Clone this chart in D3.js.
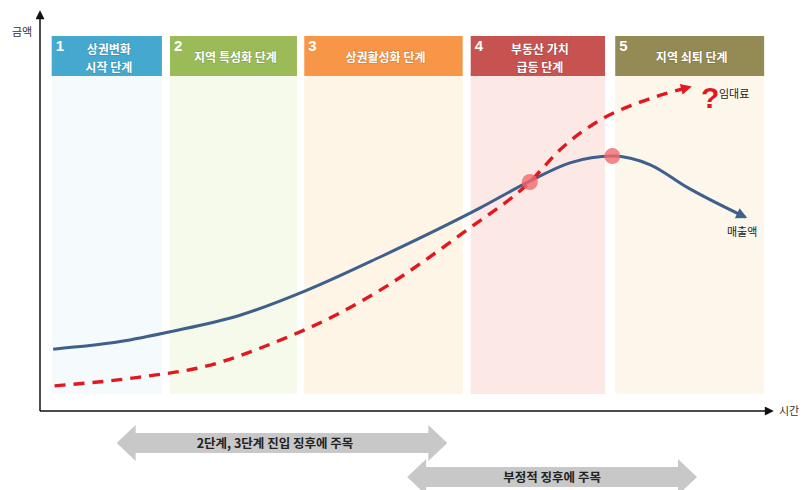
<!DOCTYPE html>
<html>
<head>
<meta charset="utf-8">
<script src="https://cdn.jsdelivr.net/npm/d3@7"></script>
<style>
  html, body { margin: 0; padding: 0; background: #fff; }
  svg { display: block; font-family: "Noto Sans CJK KR", "Noto Sans", sans-serif; }
</style>
</head>
<body>
<svg id="chart" width="803" height="490"></svg>
<script>
// Commercial district life cycle: sales vs. rent over time

// Stage bands (time units)
const stageNums   = ["1", "2", "3", "4", "5"];
const stageLabels = [["상권변화", "시작 단계"], ["지역 특성화 단계"], ["상권활성화 단계"], ["부동산 가치", "급등 단계"], ["지역 쇠퇴 단계"]];
const stageStart  = [1.6, 17.8, 36.2, 59.0, 78.8];
const stageEnd    = [16.7, 35.2, 57.9, 77.4, 99.2];
const stageColors = ["#45a9cf", "#9bbb59", "#f79646", "#c65350", "#948a54"];
const stageFills  = ["#f5fafd", "#f6faeb", "#fef5e7", "#fce8e4", "#fcf6eb"];

// Sales (매출액): time, amount
const salesTime  = [1.8, 11.0, 18.2, 27.4, 36.6, 46.6, 60.3, 67.1, 72.6, 78.4, 83.6, 88.6, 96.6];
const salesValue = [15.5, 17.4, 20.0, 24.0, 30.3, 38.6, 50.9, 57.6, 62.2, 63.9, 61.7, 56.1, 48.6];

// Rent (임대료): time, amount
const rentTime  = [2.0, 13.7, 22.9, 31.9, 41.1, 46.6, 58.5, 67.1, 71.2, 76.7, 82.2, 89.0];
const rentValue = [6.3, 8.5, 11.3, 17.0, 24.6, 30.3, 45.4, 57.4, 65.4, 72.9, 77.4, 81.2];

// Highlighted points: crossing and sales peak
const markTime  = [67.1, 78.4];
const markValue = [57.4, 63.9];

// Watch-period arrows below the time axis
const watchLabels = ["2단계, 3단계 진입 징후에 주목", "부정적 징후에 주목"];
const watchStart  = [10.5, 50.3];
const watchEnd    = [55.8, 90.0];

const svg = d3.select("#chart");
const x = d3.scaleLinear().domain([0, 100]).range([40, 770]);
const y = d3.scaleLinear().domain([0, 100]).range([411, 12]);

const defs = svg.append("defs");
function marker(id, color, w, h) {
  defs.append("marker")
    .attr("id", id).attr("viewBox", "0 0 10 10")
    .attr("refX", 8).attr("refY", 5)
    .attr("markerWidth", w).attr("markerHeight", h)
    .attr("markerUnits", "userSpaceOnUse")
    .attr("orient", "auto")
    .append("path").attr("d", "M0,0 L10,5 L0,10 Z").attr("fill", color);
}
marker("axisArrow", "#111", 10, 9);
marker("blueArrow", "#3f5f8c", 12, 11);
marker("redArrow", "#e3171e", 12, 11);

// Stage panels
const stages = stageNums.map((n, i) => ({ n, label: stageLabels[i], s: stageStart[i], e: stageEnd[i], c: stageColors[i], f: stageFills[i] }));
const headTop = 36, headBottom = 76, panelBottom = 394;

svg.selectAll("rect.panel").data(stages).join("rect")
  .attr("class", "panel")
  .attr("x", d => x(d.s)).attr("width", d => x(d.e) - x(d.s))
  .attr("y", headBottom).attr("height", panelBottom - headBottom)
  .attr("fill", d => d.f);

svg.selectAll("rect.head").data(stages).join("rect")
  .attr("class", "head")
  .attr("x", d => x(d.s)).attr("width", d => x(d.e) - x(d.s))
  .attr("y", headTop).attr("height", headBottom - headTop)
  .attr("fill", d => d.c);

const heads = svg.selectAll("g.headText").data(stages).join("g").attr("class", "headText");
heads.append("text")
  .attr("x", d => x(d.s) + 4).attr("y", headTop + 15)
  .attr("fill", "#fff").attr("font-size", 15).attr("font-weight", "bold")
  .attr("font-family", "Arial, 'Liberation Sans', sans-serif")
  .text(d => d.n);
heads.each(function(d) {
  const cx = (x(d.s) + x(d.e)) / 2 + 2;
  const lines = d.label;
  const t = d3.select(this).append("text")
    .attr("text-anchor", "middle")
    .attr("fill", "#fff").attr("font-size", 12).attr("font-weight", "bold")
    .style("paint-order", "stroke").attr("stroke", "rgba(0,0,0,0.12)").attr("stroke-width", 1.5);
  const startY = lines.length === 1 ? 62 : 54;
  lines.forEach((s, k) => {
    t.append("tspan").attr("x", cx).attr("y", startY + k * 17.5).text(s);
  });
});

// Axes
svg.append("line").attr("x1", x(0)).attr("y1", y(0)).attr("x2", x(0)).attr("y2", y(100))
  .attr("stroke", "#111").attr("stroke-width", 1.5).attr("marker-end", "url(#axisArrow)");
svg.append("line").attr("x1", x(0)).attr("y1", y(0)).attr("x2", x(100) + 2).attr("y2", y(0))
  .attr("stroke", "#111").attr("stroke-width", 1.5).attr("marker-end", "url(#axisArrow)");
svg.append("text").attr("x", 12).attr("y", 36).attr("font-size", 11).attr("fill", "#333").text("금액");
svg.append("text").attr("x", 779).attr("y", 415).attr("font-size", 11).attr("fill", "#333").text("시간");

// Curves
const line = d3.line().x(d => x(d[0])).y(d => y(d[1])).curve(d3.curveMonotoneX);
const sales = salesTime.map((t, i) => [t, salesValue[i]]);
const rent = rentTime.map((t, i) => [t, rentValue[i]]);

svg.append("path").attr("d", line(sales))
  .attr("fill", "none").attr("stroke", "#3f5f8c").attr("stroke-width", 3)
  .attr("marker-end", "url(#blueArrow)");
svg.append("path").attr("d", line(rent))
  .attr("fill", "none").attr("stroke", "#e3171e").attr("stroke-width", 3.4)
  .attr("stroke-dasharray", "11,8")
  .attr("marker-end", "url(#redArrow)");

svg.selectAll("circle.mark").data(markTime.map((t, i) => [t, markValue[i]])).join("circle")
  .attr("class", "mark")
  .attr("cx", d => x(d[0])).attr("cy", d => y(d[1])).attr("r", 8)
  .attr("fill", "#f0696b").attr("fill-opacity", 0.8);

// Curve labels
svg.append("text").attr("x", 701).attr("y", 108).attr("font-size", 30).attr("font-weight", "bold")
  .attr("font-family", "Arial, 'Liberation Sans', sans-serif").attr("fill", "#e3171e").text("?");
svg.append("text").attr("x", 719).attr("y", 98).attr("font-size", 11).attr("fill", "#222").text("임대료");
svg.append("text").attr("x", 727).attr("y", 236).attr("font-size", 11).attr("fill", "#222").text("매출액");

// Watch-period double arrows
const watchY = [443, 477];
const bodyH = 20, headH = 36, headL = 19;
watchLabels.forEach((t, i) => {
  const x0 = x(watchStart[i]), x1 = x(watchEnd[i]), cy = watchY[i];
  const pts = [
    [x0, cy], [x0 + headL, cy - headH / 2], [x0 + headL, cy - bodyH / 2],
    [x1 - headL, cy - bodyH / 2], [x1 - headL, cy - headH / 2], [x1, cy],
    [x1 - headL, cy + headH / 2], [x1 - headL, cy + bodyH / 2],
    [x0 + headL, cy + bodyH / 2], [x0 + headL, cy + headH / 2]
  ];
  svg.append("path").attr("d", "M" + pts.join("L") + "Z").attr("fill", "#c8c8c8");
  svg.append("text").attr("x", (x0 + x1) / 2 + (i === 0 ? -7 : 0)).attr("y", cy + 4.5)
    .attr("text-anchor", "middle").attr("font-size", 12.5).attr("font-weight", "bold")
    .attr("fill", "#222").text(t);
});
</script>
</body>
</html>
